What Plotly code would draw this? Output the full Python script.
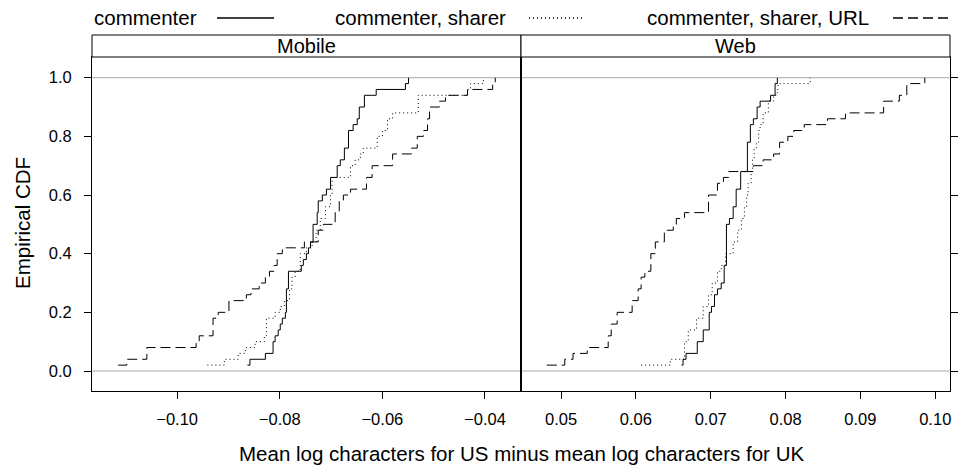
import plotly.graph_objects as go

# ---------------- data (step positions of each empirical CDF) ----------------
series_names = ["commenter", "commenter, sharer", "commenter, sharer, URL"]
panels = ["Mobile", "Web"]

mob_commenter_x = [-0.0863, -0.0858, -0.0828, -0.0813, -0.0809, -0.0803, -0.0799, -0.0795, -0.0789, -0.0787,
                   -0.0783, -0.0758, -0.0754, -0.0748, -0.0744, -0.0740, -0.0735, -0.0727, -0.0725, -0.0717,
                   -0.0709, -0.0701, -0.0688, -0.0682, -0.0674, -0.0666, -0.0657, -0.0649, -0.0645, -0.0635,
                   -0.0612, -0.0555, -0.0549]
mob_commenter_y = [0.02, 0.04, 0.06, 0.10, 0.12, 0.14, 0.16, 0.18, 0.20, 0.28, 0.34, 0.36, 0.38, 0.40, 0.42,
                   0.44, 0.50, 0.54, 0.58, 0.60, 0.62, 0.66, 0.70, 0.72, 0.76, 0.82, 0.84, 0.86, 0.90, 0.94,
                   0.96, 0.98, 1.00]

mob_sharer_x = [-0.0941, -0.0908, -0.0881, -0.0867, -0.0848, -0.0830, -0.0826, -0.0809, -0.0799, -0.0791,
                -0.0781, -0.0776, -0.0770, -0.0760, -0.0748, -0.0737, -0.0729, -0.0721, -0.0711, -0.0701,
                -0.0698, -0.0662, -0.0653, -0.0643, -0.0637, -0.0610, -0.0600, -0.0590, -0.0580, -0.0530,
                -0.0434, -0.0428, -0.0403]
mob_sharer_y = [0.02, 0.04, 0.06, 0.08, 0.10, 0.12, 0.18, 0.20, 0.22, 0.24, 0.28, 0.32, 0.34, 0.40, 0.42,
                0.44, 0.48, 0.52, 0.56, 0.60, 0.66, 0.70, 0.72, 0.74, 0.76, 0.80, 0.82, 0.86, 0.88, 0.94,
                0.96, 0.98, 1.00]

mob_url_x = [-0.1115, -0.1098, -0.1059, -0.0963, -0.0957, -0.0930, -0.0920, -0.0899, -0.0865, -0.0856,
             -0.0840, -0.0828, -0.0820, -0.0811, -0.0805, -0.0795, -0.0752, -0.0725, -0.0715, -0.0692,
             -0.0684, -0.0676, -0.0662, -0.0631, -0.0620, -0.0580, -0.0543, -0.0532, -0.0520, -0.0512,
             -0.0508, -0.0489, -0.0477, -0.0434, -0.0385, -0.0380]
mob_url_y = [0.02, 0.04, 0.08, 0.10, 0.12, 0.18, 0.20, 0.24, 0.26, 0.28, 0.30, 0.32, 0.34, 0.36, 0.40,
             0.42, 0.44, 0.48, 0.50, 0.54, 0.58, 0.60, 0.62, 0.66, 0.70, 0.74, 0.76, 0.80, 0.82, 0.86,
             0.90, 0.92, 0.94, 0.96, 0.98, 1.00]

web_commenter_x = [0.0661, 0.0663, 0.0667, 0.0682, 0.0690, 0.0698, 0.0701, 0.0705, 0.0709, 0.0714, 0.0718,
                   0.0721, 0.0725, 0.0730, 0.0734, 0.0740, 0.0749, 0.0753, 0.0757, 0.0762, 0.0766, 0.0780,
                   0.0786, 0.0789]
web_commenter_y = [0.02, 0.04, 0.06, 0.10, 0.14, 0.20, 0.22, 0.26, 0.28, 0.30, 0.36, 0.50, 0.52, 0.56, 0.62,
                   0.68, 0.78, 0.84, 0.86, 0.90, 0.92, 0.94, 0.98, 1.00]

web_sharer_x = [0.0607, 0.0646, 0.0665, 0.0670, 0.0681, 0.0690, 0.0697, 0.0702, 0.0709, 0.0714, 0.0720,
                0.0730, 0.0736, 0.0741, 0.0745, 0.0748, 0.0750, 0.0754, 0.0756, 0.0758, 0.0761, 0.0764,
                0.0766, 0.0770, 0.0777, 0.0784, 0.0789, 0.0790, 0.0833]
web_sharer_y = [0.02, 0.04, 0.10, 0.14, 0.18, 0.22, 0.26, 0.30, 0.34, 0.36, 0.40, 0.44, 0.48, 0.52, 0.56,
                0.60, 0.64, 0.68, 0.72, 0.76, 0.78, 0.82, 0.84, 0.88, 0.92, 0.94, 0.96, 0.98, 1.00]

web_url_x = [0.0481, 0.0505, 0.0516, 0.0535, 0.0563, 0.0567, 0.0575, 0.0595, 0.0603, 0.0607, 0.0612,
             0.0620, 0.0626, 0.0638, 0.0650, 0.0654, 0.0665, 0.0697, 0.0709, 0.0717, 0.0724, 0.0757,
             0.0770, 0.0784, 0.0792, 0.0803, 0.0811, 0.0825, 0.0856, 0.0880, 0.0931, 0.0952, 0.0962,
             0.0986]
web_url_y = [0.02, 0.04, 0.06, 0.08, 0.12, 0.16, 0.20, 0.24, 0.28, 0.32, 0.34, 0.40, 0.44, 0.48, 0.50,
             0.52, 0.54, 0.60, 0.64, 0.66, 0.68, 0.70, 0.72, 0.74, 0.78, 0.80, 0.82, 0.84, 0.86, 0.88,
             0.92, 0.94, 0.98, 1.00]

mob_ticks = [-0.10, -0.08, -0.06, -0.04]
mob_ticktext = ["\u22120.10", "\u22120.08", "\u22120.06", "\u22120.04"]
web_ticks = [0.05, 0.06, 0.07, 0.08, 0.09, 0.10]
web_ticktext = ["0.05", "0.06", "0.07", "0.08", "0.09", "0.10"]
y_ticks = [0.0, 0.2, 0.4, 0.6, 0.8, 1.0]
y_ticktext = ["0.0", "0.2", "0.4", "0.6", "0.8", "1.0"]

# ---------------- figure ----------------
FONT = "Liberation Sans, Arial, Helvetica, sans-serif"
dashes = ["solid", "1px,3px", "10px,5px"]

fig = go.Figure()
mobile = [(mob_commenter_x, mob_commenter_y), (mob_sharer_x, mob_sharer_y), (mob_url_x, mob_url_y)]
web = [(web_commenter_x, web_commenter_y), (web_sharer_x, web_sharer_y), (web_url_x, web_url_y)]
for (xs, ys), name, d in zip(mobile, series_names, dashes):
    fig.add_trace(go.Scatter(x=xs, y=ys, mode="lines", name=name, line=dict(color="black", width=1, dash=d, shape="hv"),
                             xaxis="x", yaxis="y", showlegend=False, hoverinfo="skip"))
for (xs, ys), name, d in zip(web, series_names, dashes):
    fig.add_trace(go.Scatter(x=xs, y=ys, mode="lines", name=name, line=dict(color="black", width=1, dash=d, shape="hv"),
                             xaxis="x2", yaxis="y2", showlegend=False, hoverinfo="skip"))

W, H = 958, 467
L, R, T, B = 92, 8, 57, 76
pw = W - L - R
ph = H - T - B

def px(xp):
    return (xp - L) / pw

def py(yp):
    return (H - B - yp) / ph

axis_common = dict(showgrid=False, zeroline=False, showline=True, linecolor="black", linewidth=1,
                   mirror=True, ticks="outside", ticklen=7, tickwidth=1, tickcolor="black", automargin=False,
                   tickfont=dict(family=FONT, size=16.5, color="black"))

yr = [-0.0682, 1.0706]
fig.update_layout(
    width=W, height=H, autosize=False, showlegend=False,
    margin=dict(l=L, r=R, t=T, b=B, pad=0, autoexpand=False),
    paper_bgcolor="white", plot_bgcolor="white",
    font=dict(family=FONT, color="black"),
    xaxis=dict(domain=[0, 0.5], range=[-0.11659, -0.03298], tickvals=mob_ticks, ticktext=mob_ticktext,
               anchor="y", ticklabelstandoff=6, **axis_common),
    xaxis2=dict(domain=[0.5, 1], range=[0.04465, 0.10197], tickvals=web_ticks, ticktext=web_ticktext,
                anchor="y2", ticklabelstandoff=6, **axis_common),
    yaxis=dict(domain=[0, 1], range=yr, tickvals=y_ticks, ticktext=y_ticktext, anchor="x",
               ticklabelstandoff=9, **axis_common),
    yaxis2=dict(domain=[0, 1], range=yr, tickvals=y_ticks, ticktext=y_ticktext, anchor="x2",
                side="right", showticklabels=False, matches="y", **axis_common),
)

shapes = []
# reference lines at 0 and 1
for xr, yref in [("x domain", "y"), ("x2 domain", "y2")]:
    for h in (0, 1):
        shapes.append(dict(type="line", xref=xr, yref=yref, x0=0, x1=1, y0=h, y1=h,
                           line=dict(color="#a8a8a8", width=1), layer="below"))
# strips
strip_top = 1 + 22 / ph
for x0, x1 in [(0, 0.5), (0.5, 1)]:
    shapes.append(dict(type="rect", xref="paper", yref="paper", x0=x0, x1=x1, y0=1, y1=strip_top,
                       line=dict(color="black", width=1), fillcolor="white"))
# legend line samples
ly = py(18)
legend_lines = [(217, 274), (529, 584), (893, 951)]
for (a, b), d in zip(legend_lines, dashes):
    shapes.append(dict(type="line", xref="paper", yref="paper", x0=px(a), x1=px(b), y0=ly, y1=ly,
                       line=dict(color="black", width=1.3, dash=d)))
fig.update_layout(shapes=shapes)

annotations = []
for (x0, x1), name in zip([(0, 0.5), (0.5, 1)], panels):
    annotations.append(dict(text=name, xref="paper", yref="paper", x=(x0 + x1) / 2, y=(1 + strip_top) / 2,
                            showarrow=False, xanchor="center", yanchor="middle",
                            font=dict(family=FONT, size=20, color="black")))
legend_text_x = [92, 333, 645]
for name, xl in zip(series_names, legend_text_x):
    annotations.append(dict(text=name, xref="paper", yref="paper", x=px(xl), y=ly, showarrow=False,
                            xanchor="left", yanchor="middle", font=dict(family=FONT, size=20.5, color="black")))
annotations.append(dict(text="Mean log characters for US minus mean log characters for UK", xref="paper",
                        yref="paper", x=0.5, y=py(453), showarrow=False, xanchor="center", yanchor="middle",
                        font=dict(family=FONT, size=20.5, color="black")))
annotations.append(dict(text="Empirical CDF", xref="paper", yref="paper", x=px(22), y=py(223), showarrow=False,
                        textangle=-90, xanchor="center", yanchor="middle",
                        font=dict(family=FONT, size=20.5, color="black")))
fig.update_layout(annotations=annotations)

fig.write_html("out.html", config={"responsive": False, "displayModeBar": False, "staticPlot": True},
               post_script="document.body.style.margin='0px';document.body.style.overflow='hidden';")
